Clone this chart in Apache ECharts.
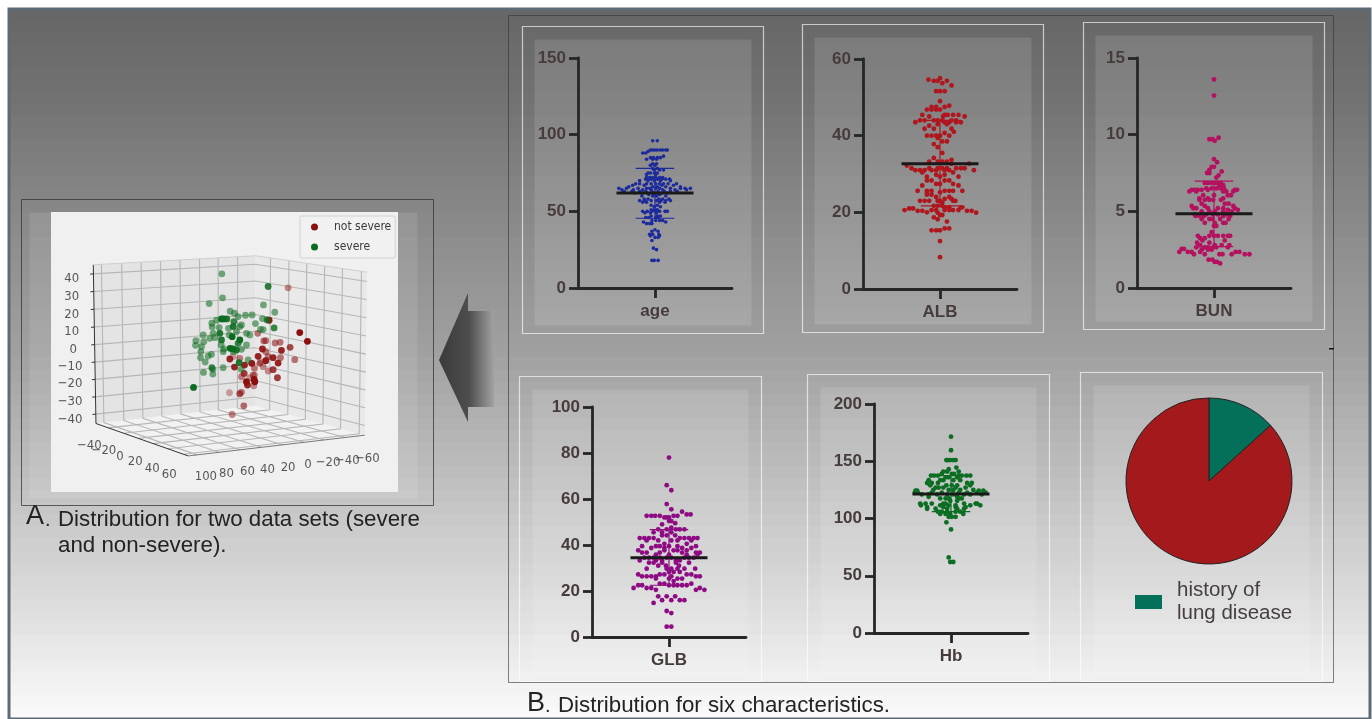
<!DOCTYPE html>
<html><head><meta charset="utf-8">
<style>html,body{margin:0;padding:0;background:#fff}#c{width:1372px;height:719px}</style>
<script src="https://cdn.jsdelivr.net/npm/echarts@6/dist/echarts.min.js"></script>
</head><body><div id="c"></div>
<script>
// ---------- swarm data: [value, [horizontal swarm offsets]] ----------
const ageRows=[[96,[-3,3]],[90,[-6,-3,0,3,7,10,14,16]],[89,[-9]],[88,[-16,-12]],[86,[11]],[85,[-6,-2,3,7]],[84,[-11,-3,2]],[81,[-3,2]],[80,[-6,0]],[78,[-3,3]],[77,[-1,6,11]],[75,[-9,-6,-1,3]],[74,[-11,1]],[72,[-11,-7,-3,1,6,10]],[71,[-12,-5,3,9,14,19]],[70,[-20,-9,-1,7,20]],[68,[-25,-20,-11,-5,1,6,11,17,28]],[67,[-29,-14,9,24]],[66,[-34,-3,3,14,33]],[65,[-47,-37,-22,-11,-7,1,6,20,33,39,46]],[64,[-43,-28,-16,-5,10,26,41]],[63,[-40,-30,-20,-12,-4,4,12,20,29]],[62,[-26,-17,-10,-2,3,9,16]],[61,[-8,-1,6]],[60,[-17,-3,2,14]],[58,[-14,-9,5,10,18]],[57,[-20,-13,-5,2,8,14,20]],[56,[-16,-11,6,13]],[54,[-5,3]],[53,[-1,7]],[51,[-5,-1,3]],[50,[-16,-10,-4,1,6,13,16]],[49,[-13,-6,2]],[47,[-5,3,7]],[46,[-12,-8,1,4]],[44,[-4,1,6,10]],[43,[-15,14]],[42,[-11,-7,-4]],[38,[0]],[37,[-4,4]],[35,[-7,-3,5]],[34,[-6,6]],[33,[0,4]],[31,[-4]],[26,[-2]],[25,[2]],[18,[-4,-1,4]]];
const albRows=[[55,[0]],[54.6,[-15]],[54.3,[-8,-3,9]],[53.7,[3]],[53.1,[15]],[51.6,[-5,0,6]],[49,[0]],[47.8,[12]],[47.5,[-11,-5,6]],[46.8,[-17,-11,-5,0]],[45.4,[-23,6,10,17,24]],[45,[-14,4,32]],[44,[-26,-20,-8,-3,3,15,21]],[43.5,[-32,6,12,21,27]],[43,[-3,9]],[42.6,[-14]],[41.8,[-20,-8,15]],[41,[18]],[40.7,[6]],[40,[-17,-11,-5,0,12]],[39.4,[-3]],[38.5,[3,9]],[37.8,[-8]],[37,[-3]],[35.5,[3]],[34.2,[-8]],[33.7,[15]],[33.2,[-14,-3,3,9]],[32.7,[15,38]],[32.2,[-43]],[31.5,[-37,-14,-3,3,9,21,27,32]],[31,[-32,-26,-20,-11,-5,6,12,44]],[30.4,[-23,17]],[29.8,[-5,6]],[29.3,[-17,0,24]],[28.3,[-17,-11,6,12]],[27.4,[-5,0,17]],[27,[-23,24]],[25.6,[-29,-11,-17,6,12,17,29]],[25.2,[-17,0]],[24.6,[-17,-11]],[24,[-5,12]],[23.5,[6,15]],[23,[-26,-20,-14,-3,0,17,20]],[22.5,[3]],[21.7,[-8,-3,3]],[21.3,[6,12,27,29]],[21,[-40,-35]],[20.6,[-46,-11,-5,6,12,17,24]],[20.4,[-29,-23,35,41]],[20,[-17]],[19.9,[-3,47]],[19.3,[0,3]],[18.7,[-8]],[18.2,[-3]],[17.6,[9]],[15.8,[6,12]],[15.3,[-11,-5,0]],[12.5,[0]],[8.3,[0]]];
const bunRows=[[13.6,[0]],[12.55,[0]],[9.8,[6]],[9.7,[-6,-2]],[9.6,[1]],[8.4,[0]],[8.2,[4]],[7.9,[-3,0]],[7.7,[-6]],[7.6,[10]],[7.5,[-9,-6]],[7.35,[6]],[7.2,[3]],[6.85,[-12,-8,-3,1,5,9]],[6.7,[7,12]],[6.5,[-10,-3,3,8,13]],[6.4,[-29,-25,-21,-16,-8,27,30]],[6.3,[-32,-23,12,16,25]],[6.05,[-14,0,18,22]],[5.85,[-19,-8,12]],[5.75,[-19,-12,-6,-1,9]],[5.5,[-16,14,19]],[5.35,[-29,-12,25]],[5.2,[-27,-23,-8,5,12,27]],[5.1,[31,18]],[5,[-16,-6,1,12,23]],[4.8,[-25,-10,-1,5,16]],[4.7,[-24,-19,-13,12,21]],[4.5,[-16,-6,-2,8,19]],[4.25,[-12,1,12,15]],[4.05,[0,3]],[3.65,[-3]],[3.4,[-21,-6,0,5,12,18,21]],[3.25,[-18,-12]],[3.1,[-15,14]],[2.95,[-22,-6]],[2.8,[-18,1,10,20]],[2.65,[-23,-12,-8,-1,3,18]],[2.55,[-39,-42]],[2.5,[-16,-8,-3]],[2.35,[-45,-34,-29,-18,28,33]],[2.2,[-26,-12,7,11,23,40,46]],[1.85,[-7,-2]],[1.7,[1,4]],[1.6,[8]]];
const glbRows=[[78,[0]],[66,[-3]],[63.8,[3]],[57.8,[-3]],[55.5,[3]],[54.5,[17]],[53.3,[23,28]],[52.7,[-29,-23,-18,-12,6,11]],[52,[-6,-3,0]],[50.4,[0,3]],[49.5,[8]],[49,[-9]],[47.5,[3]],[46.8,[-14,-3,9,14,20]],[45.5,[-20,-9,3]],[44.2,[-9,-3,8]],[43,[-38,-32,-26,-20,14,20,26,32,37]],[42,[-29,-14,3,11,29]],[40.5,[-6,23]],[39.5,[-35,-17,-12,0,11,35]],[38.7,[-23,-6,17,29]],[37.7,[-40,-6,6,11,23]],[36.7,[-35,-29,-12,17,35,40]],[35.8,[-17,0,23,37]],[34.5,[-32,-26,-20,-12,-3,3,20,26,32]],[33.3,[-38,-17,-9,9,14]],[32.3,[-26,-20,-9,9,26]],[31,[-14,-4,13]],[29.7,[-29,-3,3,11,20,34]],[28.3,[0,6,14]],[27.2,[-40,-12,-6,23,29]],[26.4,[-35,-29,-23,-17,3,35,40]],[25.4,[-17,0,11,17]],[24.3,[6]],[23.2,[-12,-6,29]],[22.5,[-40,-35,0,6,11,17,23]],[21.3,[-46,-29,-23,40]],[20.5,[-17,35,46]],[17.7,[-14,-3,8]],[16,[-9,3,14,20]],[14.8,[-20]],[11.3,[-3]],[10.4,[3]],[4.5,[-3,3]]];
const hbRows=[[171.5,[0]],[159.6,[0]],[151,[-6,-4,-1,3,6]],[144.5,[7]],[143,[-3]],[141,[-10,-5,10]],[139,[-12,1,4]],[137.5,[-26,-22,-17,10,14,20,25]],[136,[-7,-3,8]],[133.5,[-29,-14,-10,3,12]],[131,[-31,-25,-17,21,27]],[129,[-27,-6,1,8,25]],[127,[-20,-16,-10,6,19]],[125,[-23,-3,3,12,29]],[124.3,[-46,-44,36,42]],[122.5,[-47,-43,-25,-12,10,21,34,45]],[121,[-38,-29,-18,-5,3,17,25,40]],[119,[-29,8]],[117.5,[-14,-7,-3,10,14]],[115.5,[-1,8]],[113,[-40,-33,-25,-10,-7,17,32,34]],[111.5,[-39,-14,-3,6,25,38]],[110,[-31,-10,6,19]],[108.5,[-31,-20,-5,8,17]],[106,[-17,-12,-5,6,12]],[104,[-14,-7,-1,16]],[101.5,[-3,1,6]],[96.7,[-6]],[90.5,[0]],[66,[-3]],[62,[-1,3]]];
// mean, +SD, -SD
const ageStats=[62,78,45.5], albStats=[32.7,44,21.7], bunStats=[4.85,6.97,2.7], glbStats=[34.5,46.7,22.5], hbStats=[121.5,137.5,106];
const categories=['age','ALB','BUN','GLB','Hb'];
const yMaxes=[150,60,15,100,200], yIntervals=[50,20,5,20,50];
// pie
const pieNames=['history of\nlung disease','no history'];
const pieValues=[13.3,86.7];
// 3D scatter, projected picture-plane readings [u, v, opacity]
const severePts=[[606,237],[745,275,.85],[608,309],[568,326],[731,330],[765,352],[631,349],[644,355],[655,365],[677,361],[697,360],[728,371],[605,372,1],[611,372,1],[621,372,.9],[576,385],[590,376],[742,375,.8],[577,396],[707,386],[642,380,.8],[665,390],[722,403],[730,404],[763,399,.8],[598,398],[626,400],[640,395,.9],[660,395],[550,420],[580,415],[600,415,.9],[628,420],[650,410],[680,415],[690,420],[637,425,1],[570,430],[585,428],[605,435,.9],[660,435,1],[655,445,.8],[680,450],[528,437],[527,451],[552,440],[545,455],[604,450],[612,462],[631,460,1],[640,462,1],[650,465,.9],[665,463],[543,470],[575,478],[565,483],[542,488],[556,501],[610,470],[640,470],[685,495],[576,518,.8],[579,523],[610,518],[551,532],[579,537],[658,503,.9],[664,523],[521,577,1]];
const notSeverePts=[[805,279,.45],[748,376,.95],[840,413,1],[863,439,1],[714,415],[738,437],[732,438],[766,444],[781,442],[785,466,.9],[811,457,.75],[825,494],[728,462,.9],[738,470],[715,484,.9],[745,485],[760,488,.9],[782,488],[775,504,.9],[738,497,.95],[720,505],[696,505,.95],[704,520],[730,515,.45],[630,492,.9],[644,516,.9],[674,510,.9],[760,524,.8],[745,528,.45],[773,548,.8],[673,535,.8],[665,545,.5],[704,540,.45],[690,548,.4],[703,553,1],[680,560,1],[683,570,.9],[705,560,1],[702,572,.45],[660,596,.7],[665,591,.5],[629,593,.35],[672,632,.6],[637,658,.5],[722,500,.4],[660,490,.5],[640,485,.35],[700,540,.5]];
const zTicks=[[40,155,252],[30,155,306],[20,155,358],[10,155,410],[0,160,463],['−10',150,515],['−20',150,567],['−30',150,620],['−40',150,673]];
const xTicks=[['−40',208,750],['−20',252,767],[0,300,785],[20,346,800],[40,397,820],[60,448,838]];
const yTicks=[[100,558,843],[80,620,836],[60,683,830],[40,743,823],[20,805,817],[0,865,808],['−20',925,802],['−40',983,796],['−60',1043,790]];
// background gray ramp: [y, gray]
const bgRamp=[[10,102],[100,114],[195,133],[350,160],[500,196],[600,220],[690,244],[719,250]];
const bandStep=12;

// ---------- layout (separate from data) ----------
const plotBoxes=[
 {l:578,r:732,t:58,b:288,frame:[522,26,763,333],inner:[534,39,751,325],rows:ageRows,stats:ageStats,color:'#1c2a9c',size:3.6},
 {l:863,r:1017,t:59,b:289,frame:[802,24,1043,332],inner:[814,37,1031,324],rows:albRows,stats:albStats,color:'#b0161e',size:4.8},
 {l:1137,r:1291,t:58,b:288,frame:[1083,22,1324,329],inner:[1095,35,1312,321],rows:bunRows,stats:bunStats,color:'#b4115f',size:4.8},
 {l:592,r:746,t:407,b:637,frame:[519,376,761,681],inner:[532,389,748,676],rows:glbRows,stats:glbStats,color:'#8e0b84',size:4.8},
 {l:874,r:1028,t:404,b:633,frame:[807,374,1049,681],inner:[820,387,1036,676],rows:hbRows,stats:hbStats,color:'#0b6e22',size:4.8}
];
const txt='#463c3c', ink='#262626', sans='"Liberation Sans",Arial,sans-serif', cond='"DejaVu Sans Condensed","DejaVu Sans",sans-serif';
const grid=[],xAxis=[],yAxis=[],series=[];
plotBoxes.forEach((p,i)=>{
  grid.push({left:p.l,top:p.t,width:p.r-p.l,height:p.b-p.t});
  xAxis.push({gridIndex:i,type:'value',min:-100,max:100,interval:100,splitLine:{show:false},
    axisLine:{onZero:false,lineStyle:{color:ink,width:2.8}},
    axisTick:{show:true,customValues:[0],length:10,lineStyle:{color:ink,width:2.8}},
    axisLabel:{customValues:[0],formatter:()=>categories[i],margin:15,color:txt,fontSize:17,fontWeight:'bold',fontFamily:sans}});
  yAxis.push({gridIndex:i,type:'value',min:0,max:yMaxes[i],interval:yIntervals[i],splitLine:{show:false},
    axisLine:{show:true,onZero:false,lineStyle:{color:ink,width:2.8}},
    axisTick:{show:true,length:9,lineStyle:{color:ink,width:2.8}},
    axisLabel:{margin:12,color:txt,fontSize:17,fontWeight:'bold',fontFamily:sans}});
  series.push({type:'line',xAxisIndex:i,yAxisIndex:i,showSymbol:false,silent:true,z:1,
    lineStyle:{color:p.color,width:1.2},
    data:[[-25,p.stats[1]],[25,p.stats[1]],[0,p.stats[1]],[0,p.stats[2]],[-25,p.stats[2]],[25,p.stats[2]]]});
  series.push({type:'scatter',xAxisIndex:i,yAxisIndex:i,symbolSize:p.size,itemStyle:{color:p.color,opacity:1},z:2,
    data:p.rows.flatMap(([v,xs])=>xs.map(x=>[x,v]))});
  series.push({type:'line',xAxisIndex:i,yAxisIndex:i,showSymbol:false,silent:true,z:3,
    lineStyle:{color:'#1a1a1a',width:3},data:[[-50,p.stats[0]],[50,p.stats[0]]]});
});

// 3D panel: hidden plane axes spanning the white plot box
const g3=plotBoxes.length;
grid.push({left:51,top:212,width:347,height:280});
xAxis.push({gridIndex:g3,type:'value',min:93,max:1135,show:false});
yAxis.push({gridIndex:g3,type:'value',min:52,max:890,inverse:true,show:false});
const lerp=(a,b,t)=>[a[0]+(b[0]-a[0])*t,a[1]+(b[1]-a[1])*t];
const cTL=[220,210],cBK=[707,183],cTR=[1042,232],cL=[228,685],cB=[705,632],cR=[1035,720],cF=[505,782];
const leftT=[.05,.175,.295,.415,.535,.655,.77,.89], rightT=[.135,.3,.46,.62,.78,.95];
const zT=[.057,.168,.28,.392,.503,.613,.722,.832,.941];
const gridCol='#b6b6b6';
const wire=[
 {poly:[cTL,cBK,cB,cL],fill:'#e4e4e4'},
 {poly:[cBK,cTR,cR,cB],fill:'#e9e9e9'},
 {poly:[cL,cF,cR,cB],fill:'#f2f2f2'}];
leftT.forEach(t=>{
  wire.push({line:[lerp(cTL,cBK,t),lerp(cL,cB,t),lerp(cF,cR,t)],c:gridCol,w:1.1});
});
rightT.forEach(t=>{
  wire.push({line:[lerp(cBK,cTR,t),lerp(cB,cR,t),lerp(cL,cF,t)],c:gridCol,w:1.1});
});
zT.forEach(t=>{
  wire.push({line:[lerp(cTL,cL,t),lerp(cBK,cB,t),lerp(cTR,cR,t)],c:gridCol,w:1.1});
  const a=lerp(cTL,cL,t); wire.push({line:[[a[0]-10,a[1]+1],a],c:'#333',w:1});
});
wire.push({line:[cTL,cL],c:'#333',w:1});
wire.push({line:[cL,cF],c:'#333',w:1});
wire.push({line:[cF,cR],c:'#777',w:1});
wire.push({line:[cTL,cBK,cTR],c:'#d0d0d0',w:1});
series.push({type:'custom',xAxisIndex:g3,yAxisIndex:g3,coordinateSystem:'cartesian2d',silent:true,z:1,clip:false,
  data:wire.map((_,i)=>[93,52,i]),
  renderItem:(params,api)=>{
    const w=wire[params.dataIndex];
    if(w.poly) return {type:'polygon',shape:{points:w.poly.map(p=>api.coord(p))},style:{fill:w.fill,stroke:'none'}};
    return {type:'polyline',shape:{points:w.line.map(p=>api.coord(p))},style:{fill:'none',stroke:w.c,lineWidth:w.w}};
  }});
const ptData=a=>a.map(p=>({value:[p[0],p[1]],itemStyle:{opacity:p[2]||0.55}}));
series.push({type:'scatter',name:'not severe',xAxisIndex:g3,yAxisIndex:g3,symbolSize:6.8,z:3,itemStyle:{color:'#8c0f10'},data:ptData(notSeverePts)});
series.push({type:'scatter',name:'severe',xAxisIndex:g3,yAxisIndex:g3,symbolSize:6.8,z:4,itemStyle:{color:'#0b6b1e'},data:ptData(severePts)});
series.push({type:'scatter',xAxisIndex:g3,yAxisIndex:g3,symbolSize:0,silent:true,z:5,
  data:[...zTicks,...xTicks,...yTicks].map(t=>({value:[t[1],t[2]],tickText:String(t[0])})),
  label:{show:true,position:'inside',formatter:p=>p.data.tickText,color:'#303030',fontSize:13,fontFamily:cond}});

// pie
series.push({type:'pie',center:[1209,481],radius:83,startAngle:90,clockwise:true,silent:true,label:{show:false},labelLine:{show:false},
  itemStyle:{borderColor:'#222',borderWidth:1},z:3,
  data:pieNames.map((n,i)=>({name:n,value:pieValues[i],itemStyle:{color:['#04705a','#a3191c'][i]}}))});

// graphics
const rectG=(b,style)=>({type:'rect',z:-8,shape:{x:b[0]+.5,y:b[1]+.5,width:b[2]-b[0],height:b[3]-b[1]},style,silent:true});
const grayAt=y=>{for(let i=1;i<bgRamp.length;i++){if(y<=bgRamp[i][0]){const [a,ga]=bgRamp[i-1],[b,gb]=bgRamp[i];return Math.round(ga+(gb-ga)*(y-a)/(b-a));}}return 250;};
const bandStops=[];
for(let y=10;y<719;y+=bandStep){
  const g=grayAt(y+bandStep/2), c=`rgb(${g},${g},${g})`;
  bandStops.push({offset:Math.min(1,(y-10)/709),color:c},{offset:Math.min(1,(y+bandStep-10)/709),color:c});
}
const els=[];
els.push({type:'rect',z:-10,silent:true,shape:{x:9,y:9,width:1361,height:710},style:{stroke:'#5e6a76',lineWidth:3,
  fill:{type:'linear',x:0,y:0,x2:0,y2:1,colorStops:bandStops}}});
els.push(rectG([508,15,1333,682],{fill:'none',stroke:'rgba(50,50,50,.6)',lineWidth:1}));
plotBoxes.forEach(p=>{
  els.push(rectG(p.inner,{fill:'rgba(255,255,255,.12)',stroke:'none'}));
  els.push(rectG(p.frame,{fill:'none',stroke:'rgba(255,255,255,.65)',lineWidth:1.2}));
});
els.push(rectG([1093,385,1309,676],{fill:'rgba(255,255,255,.12)',stroke:'none'}));
els.push(rectG([1080,372,1322,681],{fill:'none',stroke:'rgba(255,255,255,.65)',lineWidth:1.2}));
els.push(rectG([29,212,417,498],{fill:'rgba(255,255,255,.1)',stroke:'none'}));
els.push(rectG([21,199,433,505],{fill:'none',stroke:'rgba(50,50,50,.75)',lineWidth:1}));
els.push({type:'rect',z:-7,silent:true,shape:{x:51,y:212,width:347,height:280},style:{fill:'#f0f0f0'}});
els.push({type:'rect',z:-7,silent:true,shape:{x:1329,y:348,width:5,height:1.5},style:{fill:'#111'}});
els.push({type:'polygon',z:-7,silent:true,shape:{points:[[439,360],[468,293],[468,311],[494,311],[494,407],[468,407],[468,422]]},
  style:{fill:{type:'linear',x:0,y:0,x2:1,y2:0,colorStops:[{offset:0,color:'#3a3a3a'},{offset:.55,color:'#4e4e4e'},{offset:1,color:'#a2a2a2'}]}}});
const capt=(x,y,t,size,fill)=>({type:'text',z:5,silent:true,x,y,style:{text:t,font:`${size}px "Liberation Sans",Arial,sans-serif`,fill:fill||'#232323',verticalAlign:'middle'}});
els.push(capt(26,517,'A',27));
els.push(capt(45,520,'.',20));
els.push(capt(58,520,'Distribution for two data sets (severe',22.3));
els.push(capt(58,546,'and non-severe).',22.3));
els.push(capt(527,704,'B',27));
els.push(capt(545,706,'.',20));
els.push(capt(558,706,'Distribution for six characteristics.',22.3));

const option={animation:false,backgroundColor:'#fff',grid,xAxis,yAxis,series,
  legend:[
   {data:['not severe','severe'],orient:'vertical',left:300,top:216,selectedMode:false,icon:'circle',itemWidth:7,itemHeight:7,itemGap:8,
    padding:[5,4,5,11],backgroundColor:'#f1f1f1',borderColor:'#d2d2d2',borderWidth:1,borderRadius:2,z:6,
    itemStyle:{opacity:1},
    textStyle:{color:'#3a3a3a',fontSize:12,padding:[0,0,0,11],fontFamily:cond}},
   {data:[pieNames[0]],left:1135,top:579,selectedMode:false,icon:'rect',itemWidth:27,itemHeight:14,padding:0,z:6,
    itemStyle:{borderWidth:0},
    textStyle:{color:'#453f3f',fontSize:20.5,lineHeight:23,padding:[0,0,0,10],fontFamily:sans}}
  ],
  graphic:{elements:els}};
const chart=echarts.init(document.getElementById('c'),null,{renderer:'canvas'});
chart.setOption(option);
</script></body></html>
